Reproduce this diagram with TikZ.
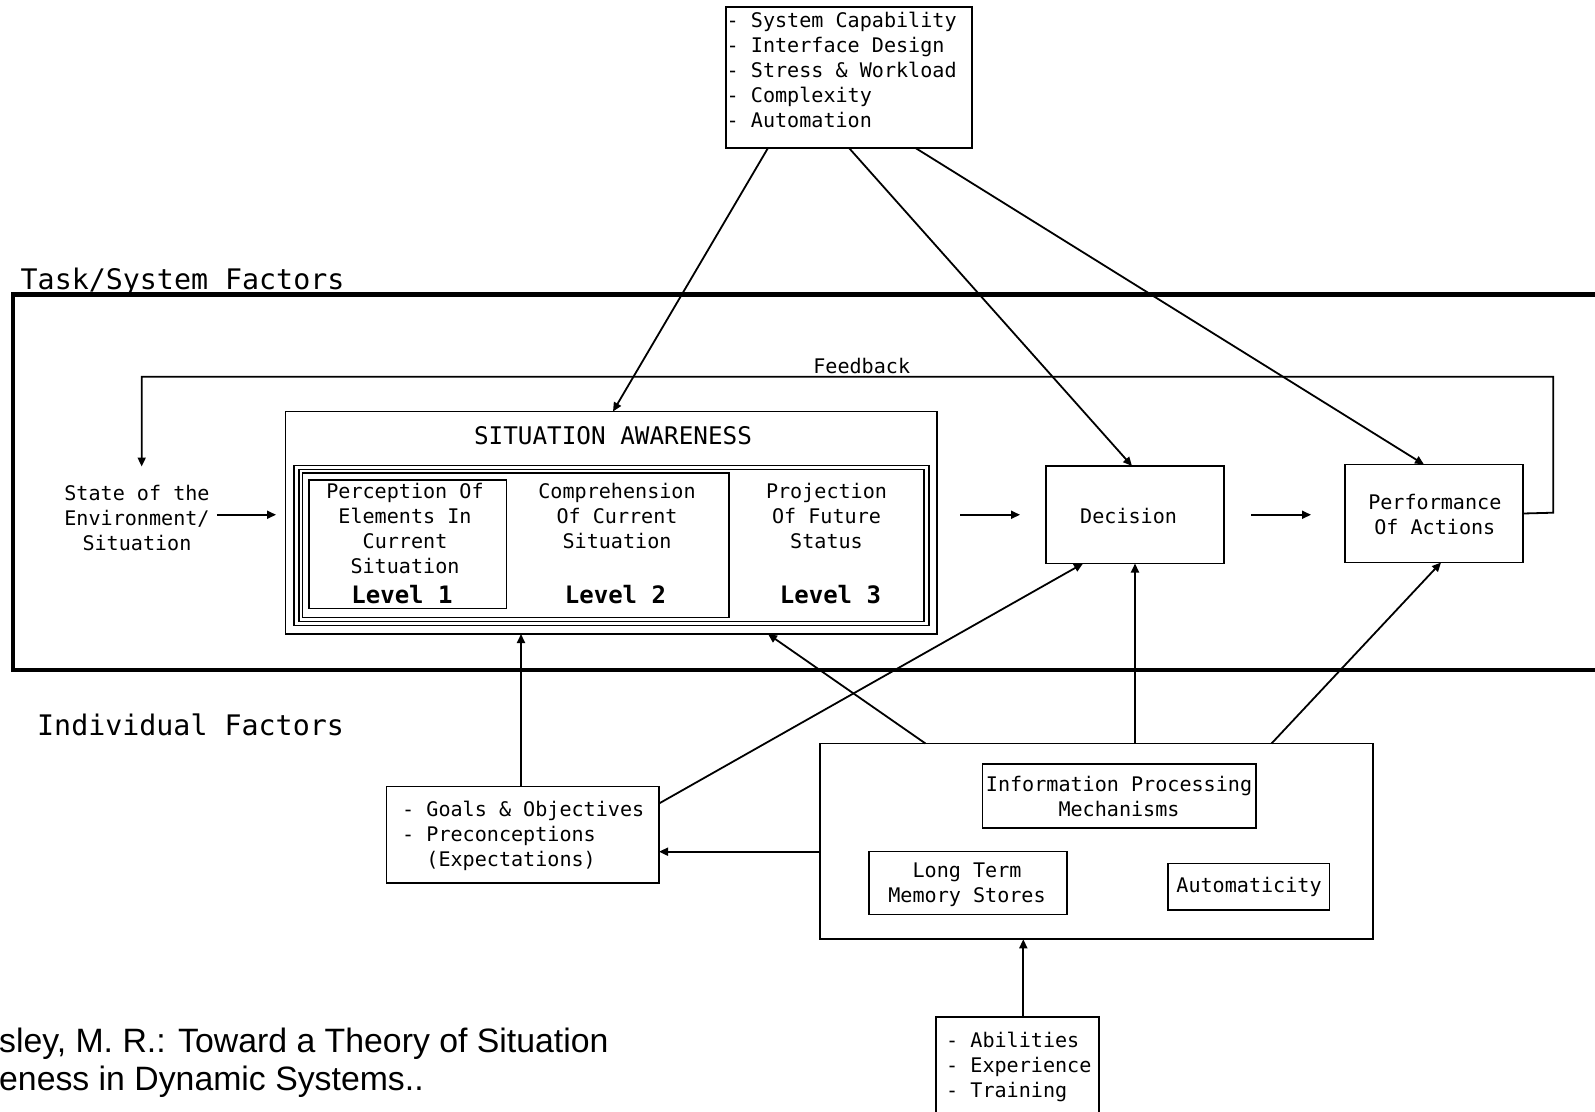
\documentclass[tikz,border=0pt]{standalone}
\usepackage{fontspec}
\newfontfamily\mono{DejaVu Sans Mono}
\newfontfamily\citefont{Liberation Sans}
\usetikzlibrary{arrows.meta,fit}
\newcommand\mlc[1]{\begin{tabular}[t]{@{}c@{}}#1\end{tabular}}
\newcommand\mll[1]{\begin{tabular}[t]{@{}l@{}}#1\end{tabular}}
\begin{document}
\begin{tikzpicture}[x=1pt,y=-1pt,
  box/.style={draw, line width=1.8pt, inner sep=0pt, outer sep=0pt},
  arr/.style={line width=1.8pt, -{Triangle[length=9pt,width=8pt]}},
  txt/.style={inner sep=0pt, anchor=base, font=\mono\fontsize{20.1}{25}\selectfont},
  txtl/.style={inner sep=0pt, anchor=base west, font=\mono\fontsize{20.1}{25}\selectfont},
  big/.style={inner sep=0pt, anchor=base west, font=\mono\fontsize{28.3}{34}\selectfont},
  lvl/.style={inner sep=0pt, anchor=base, font=\mono\bfseries\fontsize{24}{28}\selectfont}]
\useasboundingbox (0,0) rectangle (1595,1111);
\clip (0,0) rectangle (1595,1111);
\fill[white] (0,0) rectangle (1595,1111);

% outer frame
\draw[line width=4.5pt] (13,294.5) rectangle (1625,670);
\node[big] (tsf) at (20.5,289.5) {Task/System Factors};
\node[big] (indf) at (37,735) {Individual Factors};

% boxes
\node[box, fit={(726,7) (972,148)}] (sys) {};
\node[box, fit={(285.5,411.5) (937,634)}] (SA) {};
\node[box, fit={(294,465.5) (929,625.5)}] (dblo) {};
\node[box, fit={(299,469.5) (924,621.5)}] (dbli) {};
\node[box, fit={(302.5,473) (729,617.5)}] (l12) {};
\node[box, fit={(309,480) (506.5,608.5)}] (l1) {};
\node[box, fit={(1046,466) (1224,563.5)}] (dec) {};
\node[box, fit={(1345,464.5) (1523,562.5)}] (perf) {};
\node[box, fit={(386.5,786.5) (659,883)}] (goals) {};
\node[box, fit={(820,743.5) (1373,939.3)}] (indiv) {};
\node[box, fit={(982.5,764) (1256,828)}] (ipm) {};
\node[box, fit={(869,851.5) (1067,914.5)}] (ltm) {};
\node[box, fit={(1168,863.5) (1329.5,910)}] (auto) {};
\node[box, fit={(936,1017.3) (1099,1130)}] (abil) {};

% texts
\node[txtl] (systext) at (726.5,27.5) {\mll{- System Capability\\- Interface Design\\- Stress \& Workload\\- Complexity\\- Automation}};
\node[txt] (fbtext) at (861.7,373.3) {Feedback};
\node[txt, inner xsep=7pt, inner ysep=16.5pt] (state) at (137,500.7) {\mlc{State of the\\Environment/\\Situation}};
\node[inner sep=0pt, anchor=base, font=\mono\fontsize{24.3}{28}\selectfont] (satitle) at (613,444.3) {SITUATION AWARENESS};
\node[txt] (c1) at (405,498) {\mlc{Perception Of\\Elements In\\Current\\Situation}};
\node[txt] (c2) at (617,498) {\mlc{Comprehension\\Of Current\\Situation}};
\node[txt] (c3) at (826.5,498) {\mlc{Projection\\Of Future\\Status}};
\node[lvl] (lv1) at (402,603.5) {Level 1};
\node[lvl] (lv2) at (615.5,603.5) {Level 2};
\node[lvl] (lv3) at (830.5,603.5) {Level 3};
\node[txt] (dectext) at (1128.6,523.5) {Decision};
\node[txt] (perftext) at (1434.8,509) {\mlc{Performance\\Of Actions}};
\node[txtl] (goalstext) at (402,816.7) {\mll{- Goals \& Objectives\\- Preconceptions\\\hphantom{0}\hphantom{0}(Expectations)}};
\node[txt] (ipmtext) at (1119,791.5) {\mlc{Information Processing\\Mechanisms}};
\node[txt] (ltmtext) at (967,877.5) {\mlc{Long Term\\Memory Stores}};
\node[txt] (autotext) at (1249,892.3) {Automaticity};
\node[txtl] (abiltext) at (946,1047.7) {\mll{- Abilities\\- Experience\\- Training}};
\node[inner sep=0pt, anchor=base west, font=\citefont\fontsize{33.8}{38.5}\selectfont] (cite) at (-1,1052) {\mll{sley, M. R.: Toward a Theory of Situation\\eness in Dynamic Systems..}};

% coordinates
\coordinate (fbR) at (1553.3,512.7);
\coordinate (fbL) at (141.7,376.7);
\coordinate (ig) at ([yshift=-10.3pt]indiv.west);

% connectors
\draw[arr] ([xshift=42pt]sys.south west) -- ([xshift=327.5pt]SA.north west);
\draw[arr] (sys.south) -- ([xshift=-3pt]dec.north);
\draw[arr] ([xshift=189.5pt]sys.south west) -- ([xshift=-10pt]perf.north);
\draw[arr] (perf.east) -- (fbR) |- (fbL) -- (fbL |- state.north);
\draw[arr, shorten >=9.5pt] (state.east |- dec.west) -- (SA.west |- dec.west);
\draw[arr, shorten <=23pt, shorten >=26pt] (SA.east |- dec.west) -- (dec.west);
\draw[arr, shorten <=27pt, shorten >=34pt] (dec.east) -- (perf.west |- dec.east);
\draw[arr] ([xshift=-1.75pt]goals.north) -- ([xshift=-1.75pt]goals.north |- SA.south);
\draw[arr] ([yshift=-17pt]goals.north east) -- ([xshift=-52pt]dec.south);
\draw[arr] ([xshift=105.5pt]indiv.north west) -- ([xshift=-169pt]SA.south east);
\draw[arr] (dec.south |- indiv.north) -- (dec.south);
\draw[arr] ([xshift=-101.5pt]indiv.north east) -- ([xshift=7pt]perf.south);
\draw[arr] (ig) -- (goals.east |- ig);
\draw[arr] ([xshift=5.8pt]abil.north) -- ([xshift=5.8pt]abil.north |- indiv.south);
\end{tikzpicture}
\end{document}
